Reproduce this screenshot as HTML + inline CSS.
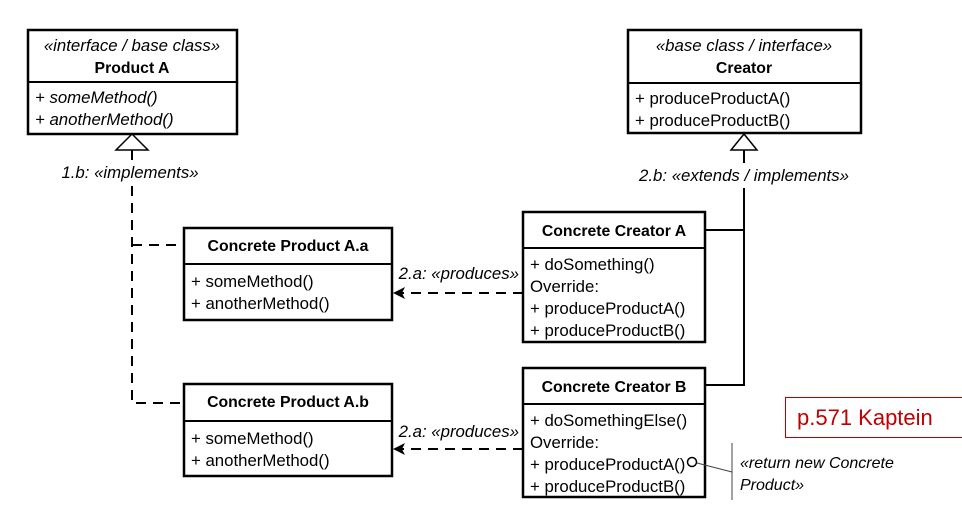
<!DOCTYPE html>
<html><head><meta charset="utf-8"><style>
html,body{margin:0;padding:0;background:#fff;width:962px;height:511px;overflow:hidden}
text{font-family:"Liberation Sans",sans-serif;font-size:16.8px;fill:#000}
.b{font-weight:bold;font-size:15.8px}
.i{font-style:italic}
</style></head><body>
<svg width="962" height="511" viewBox="0 0 962 511" xmlns="http://www.w3.org/2000/svg">
<g fill="#fff" stroke="#000" stroke-width="2.5">
<rect x="28" y="30" width="209" height="104"/>
<rect x="628" y="30" width="233" height="103"/>
<rect x="184" y="228" width="208" height="92"/>
<rect x="184" y="384" width="208" height="92"/>
<rect x="523" y="212" width="182" height="130"/>
<rect x="523" y="368" width="182" height="129"/>
</g>
<g stroke="#000" stroke-width="2">
<line x1="28" y1="82" x2="237" y2="82"/>
<line x1="628" y1="83" x2="861" y2="83"/>
<line x1="184" y1="264" x2="392" y2="264"/>
<line x1="184" y1="421" x2="392" y2="421"/>
<line x1="523" y1="248" x2="705" y2="248"/>
<line x1="523" y1="404" x2="705" y2="404"/>
</g>
<polygon points="132,134 116,150 148,150" fill="#fff" stroke="#000" stroke-width="1.5"/>
<polygon points="744,134 731,150 757,150" fill="#fff" stroke="#000" stroke-width="1.5"/>
<g stroke="#000" stroke-width="2" fill="none">
<line x1="132" y1="150" x2="132" y2="160"/>
<path d="M132 186 V403 H184" stroke-dasharray="10,7"/>
<path d="M132 245 H184" stroke-dasharray="10,7"/>
<line x1="744" y1="150" x2="744" y2="163"/>
<path d="M744 188 V385 H705"/>
<path d="M705 230 H744"/>
<path d="M523 293 H398" stroke-dasharray="10,7"/>
<path d="M523 449 H398" stroke-dasharray="10,7"/>
</g>
<polygon points="393,293 405,287 402,293 405,299" fill="#000"/>
<polygon points="393,449 405,443 402,449 405,455" fill="#000"/>
<circle cx="692" cy="462" r="4.5" fill="#fff" stroke="#000" stroke-width="1.5"/>
<line x1="697" y1="463" x2="732" y2="472" stroke="#444" stroke-width="1"/>
<line x1="732" y1="443" x2="732" y2="500" stroke="#444" stroke-width="1"/>
<rect x="785.5" y="397.5" width="180" height="40" fill="#fff" stroke="#c00000" stroke-width="1"/>
<text x="797" y="425" style="font-size:22px;fill:#c00000">p.571 Kaptein</text>

<text x="132" y="51" text-anchor="middle" class="i">«interface / base class»</text>
<text x="132" y="73" text-anchor="middle" class="b">Product A</text>
<text x="35" y="103" class="i">+ someMethod()</text>
<text x="35" y="125" class="i">+ anotherMethod()</text>

<text x="744" y="51" text-anchor="middle" class="i">«base class / interface»</text>
<text x="744" y="73" text-anchor="middle" class="b">Creator</text>
<text x="635" y="104">+ produceProductA()</text>
<text x="635" y="126">+ produceProductB()</text>

<text x="130" y="178" text-anchor="middle" class="i">1.b: «implements»</text>
<text x="744" y="181" text-anchor="middle" class="i">2.b: «extends / implements»</text>

<text x="288" y="251" text-anchor="middle" class="b">Concrete Product A.a</text>
<text x="191" y="287">+ someMethod()</text>
<text x="191" y="309">+ anotherMethod()</text>

<text x="288" y="407" text-anchor="middle" class="b">Concrete Product A.b</text>
<text x="191" y="444">+ someMethod()</text>
<text x="191" y="466">+ anotherMethod()</text>

<text x="614" y="236" text-anchor="middle" class="b">Concrete Creator A</text>
<text x="530" y="270">+ doSomething()</text>
<text x="530" y="292">Override:</text>
<text x="530" y="314">+ produceProductA()</text>
<text x="530" y="336">+ produceProductB()</text>

<text x="614" y="392" text-anchor="middle" class="b">Concrete Creator B</text>
<text x="530" y="426">+ doSomethingElse()</text>
<text x="530" y="448">Override:</text>
<text x="530" y="470">+ produceProductA()</text>
<text x="530" y="492">+ produceProductB()</text>

<text x="519" y="279" text-anchor="end" class="i">2.a: «produces»</text>
<text x="519" y="437" text-anchor="end" class="i">2.a: «produces»</text>

<text x="740" y="468" class="i" style="font-size:16px">«return new Concrete</text>
<text x="740" y="490" class="i" style="font-size:16px">Product»</text>
</svg>
</body></html>
